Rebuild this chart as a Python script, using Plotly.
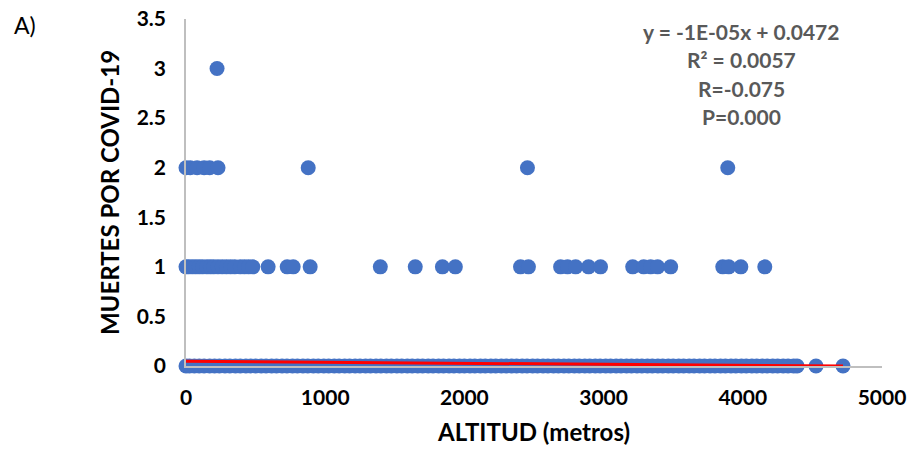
import plotly.graph_objects as go

# ---- data ----
x_deaths0 = [0, 25, 60, 95, 130, 170, 205, 240, 280, 315, 355, 390, 430, 465, 500, 540, 575, 615,
             650, 690, 725, 765, 800, 840, 875, 915, 950, 990, 1025, 1065, 1100, 1140, 1175, 1215,
             1250, 1290, 1325, 1365, 1400, 1440, 1475, 1515, 1550, 1590, 1625, 1665, 1700, 1740,
             1775, 1815, 1850, 1890, 1925, 1965, 2000, 2040, 2075, 2115, 2150, 2190, 2225, 2265,
             2300, 2340, 2375, 2415, 2450, 2490, 2525, 2565, 2600, 2640, 2675, 2715, 2750, 2790,
             2825, 2865, 2900, 2940, 2975, 3015, 3050, 3090, 3125, 3165, 3200, 3240, 3275, 3315,
             3350, 3390, 3425, 3465, 3500, 3540, 3575, 3615, 3650, 3690, 3725, 3765, 3800, 3840,
             3875, 3915, 3950, 3990, 4025, 4065, 4100, 4140, 4175, 4215, 4250, 4290, 4325, 4365,
             4390, 4526, 4720]
x_deaths1 = [0, 20, 45, 70, 95, 120, 150, 175, 200, 230, 260, 290, 320, 350, 390, 420, 450, 480,
             590, 727, 770, 892, 1396, 1647, 1842, 1935, 2403, 2460, 2691, 2741, 2799, 2892, 2978,
             3209, 3288, 3338, 3388, 3482, 3856, 3899, 3986, 4158]
x_deaths2 = [0, 30, 80, 130, 170, 230, 878, 2453, 3892]
x_deaths3 = [223]

trend_slope = -1e-05
trend_intercept = 0.0472
trend_x = [0, 4720]

annot_lines = ["y = -1E-05x + 0.0472", "R² = 0.0057", "R=-0.075", "P=0.000"]
x_ticks = [0, 1000, 2000, 3000, 4000, 5000]
y_ticks = [0, 0.5, 1, 1.5, 2, 2.5, 3, 3.5]
y_ticklabels = ["0", "0.5", "1", "1.5", "2", "2.5", "3", "3.5"]

# ---- figure ----
xs = x_deaths0 + x_deaths1 + x_deaths2 + x_deaths3
ys = [0] * len(x_deaths0) + [1] * len(x_deaths1) + [2] * len(x_deaths2) + [3] * len(x_deaths3)

FONT = "Lato"
L, R, T, B = 186, 28, 19, 85
PW, PH = 910 - L - R, 451 - T - B

fig = go.Figure()
fig.add_trace(go.Scatter(
    x=xs, y=ys, mode="markers",
    marker=dict(color="#4472C4", size=15, line=dict(width=0)),
    cliponaxis=False, showlegend=False, hoverinfo="skip"))
fig.add_trace(go.Scatter(
    x=trend_x, y=[trend_slope * v + trend_intercept for v in trend_x], mode="lines",
    line=dict(color="#FF0000", width=3), cliponaxis=False, showlegend=False))

fig.update_layout(
    width=910, height=451,
    margin=dict(l=L, r=R, t=T, b=B),
    paper_bgcolor="white", plot_bgcolor="white",
    font=dict(family=FONT, color="black"),
    xaxis=dict(range=[0, 5000], tickvals=x_ticks, showgrid=False, zeroline=False,
               automargin=False,
               showline=True, linecolor="#BFBFBF", linewidth=1.5,
               ticks="outside", ticklen=12, tickcolor="rgba(0,0,0,0)",
               tickfont=dict(family=FONT, size=21, color="black", weight="bold"),
               title=dict(text="<b>ALTITUD (metros)</b>", font=dict(family=FONT, size=24),
                          standoff=16)),
    yaxis=dict(range=[0, 3.5], tickvals=y_ticks, ticktext=y_ticklabels, showgrid=False,
               zeroline=False, automargin=False,
               showline=True, linecolor="#BFBFBF", linewidth=1.5,
               ticks="outside", ticklen=14, tickcolor="rgba(0,0,0,0)",
               tickfont=dict(family=FONT, size=21, color="black", weight="bold"),
               title=dict(text="<b>MUERTES POR COVID-19</b>", font=dict(family=FONT, size=24),
                          standoff=10)),
)

line_px = [32, 60, 88, 116]
for txt, py in zip(annot_lines, line_px):
    fig.add_annotation(text="<b>" + txt + "</b>", xref="paper", yref="paper",
                       x=(741 - L) / PW, y=(451 - B - py) / PH, showarrow=False,
                       xanchor="center", yanchor="middle",
                       font=dict(family=FONT, size=21, color="#595959"))

fig.add_annotation(text="A)", xref="paper", yref="paper", x=(12 - L) / PW,
                   y=(451 - B - 25) / PH, xanchor="left", yanchor="middle", showarrow=False,
                   font=dict(family=FONT, size=23, color="black"))

fig.write_html("out.html")
